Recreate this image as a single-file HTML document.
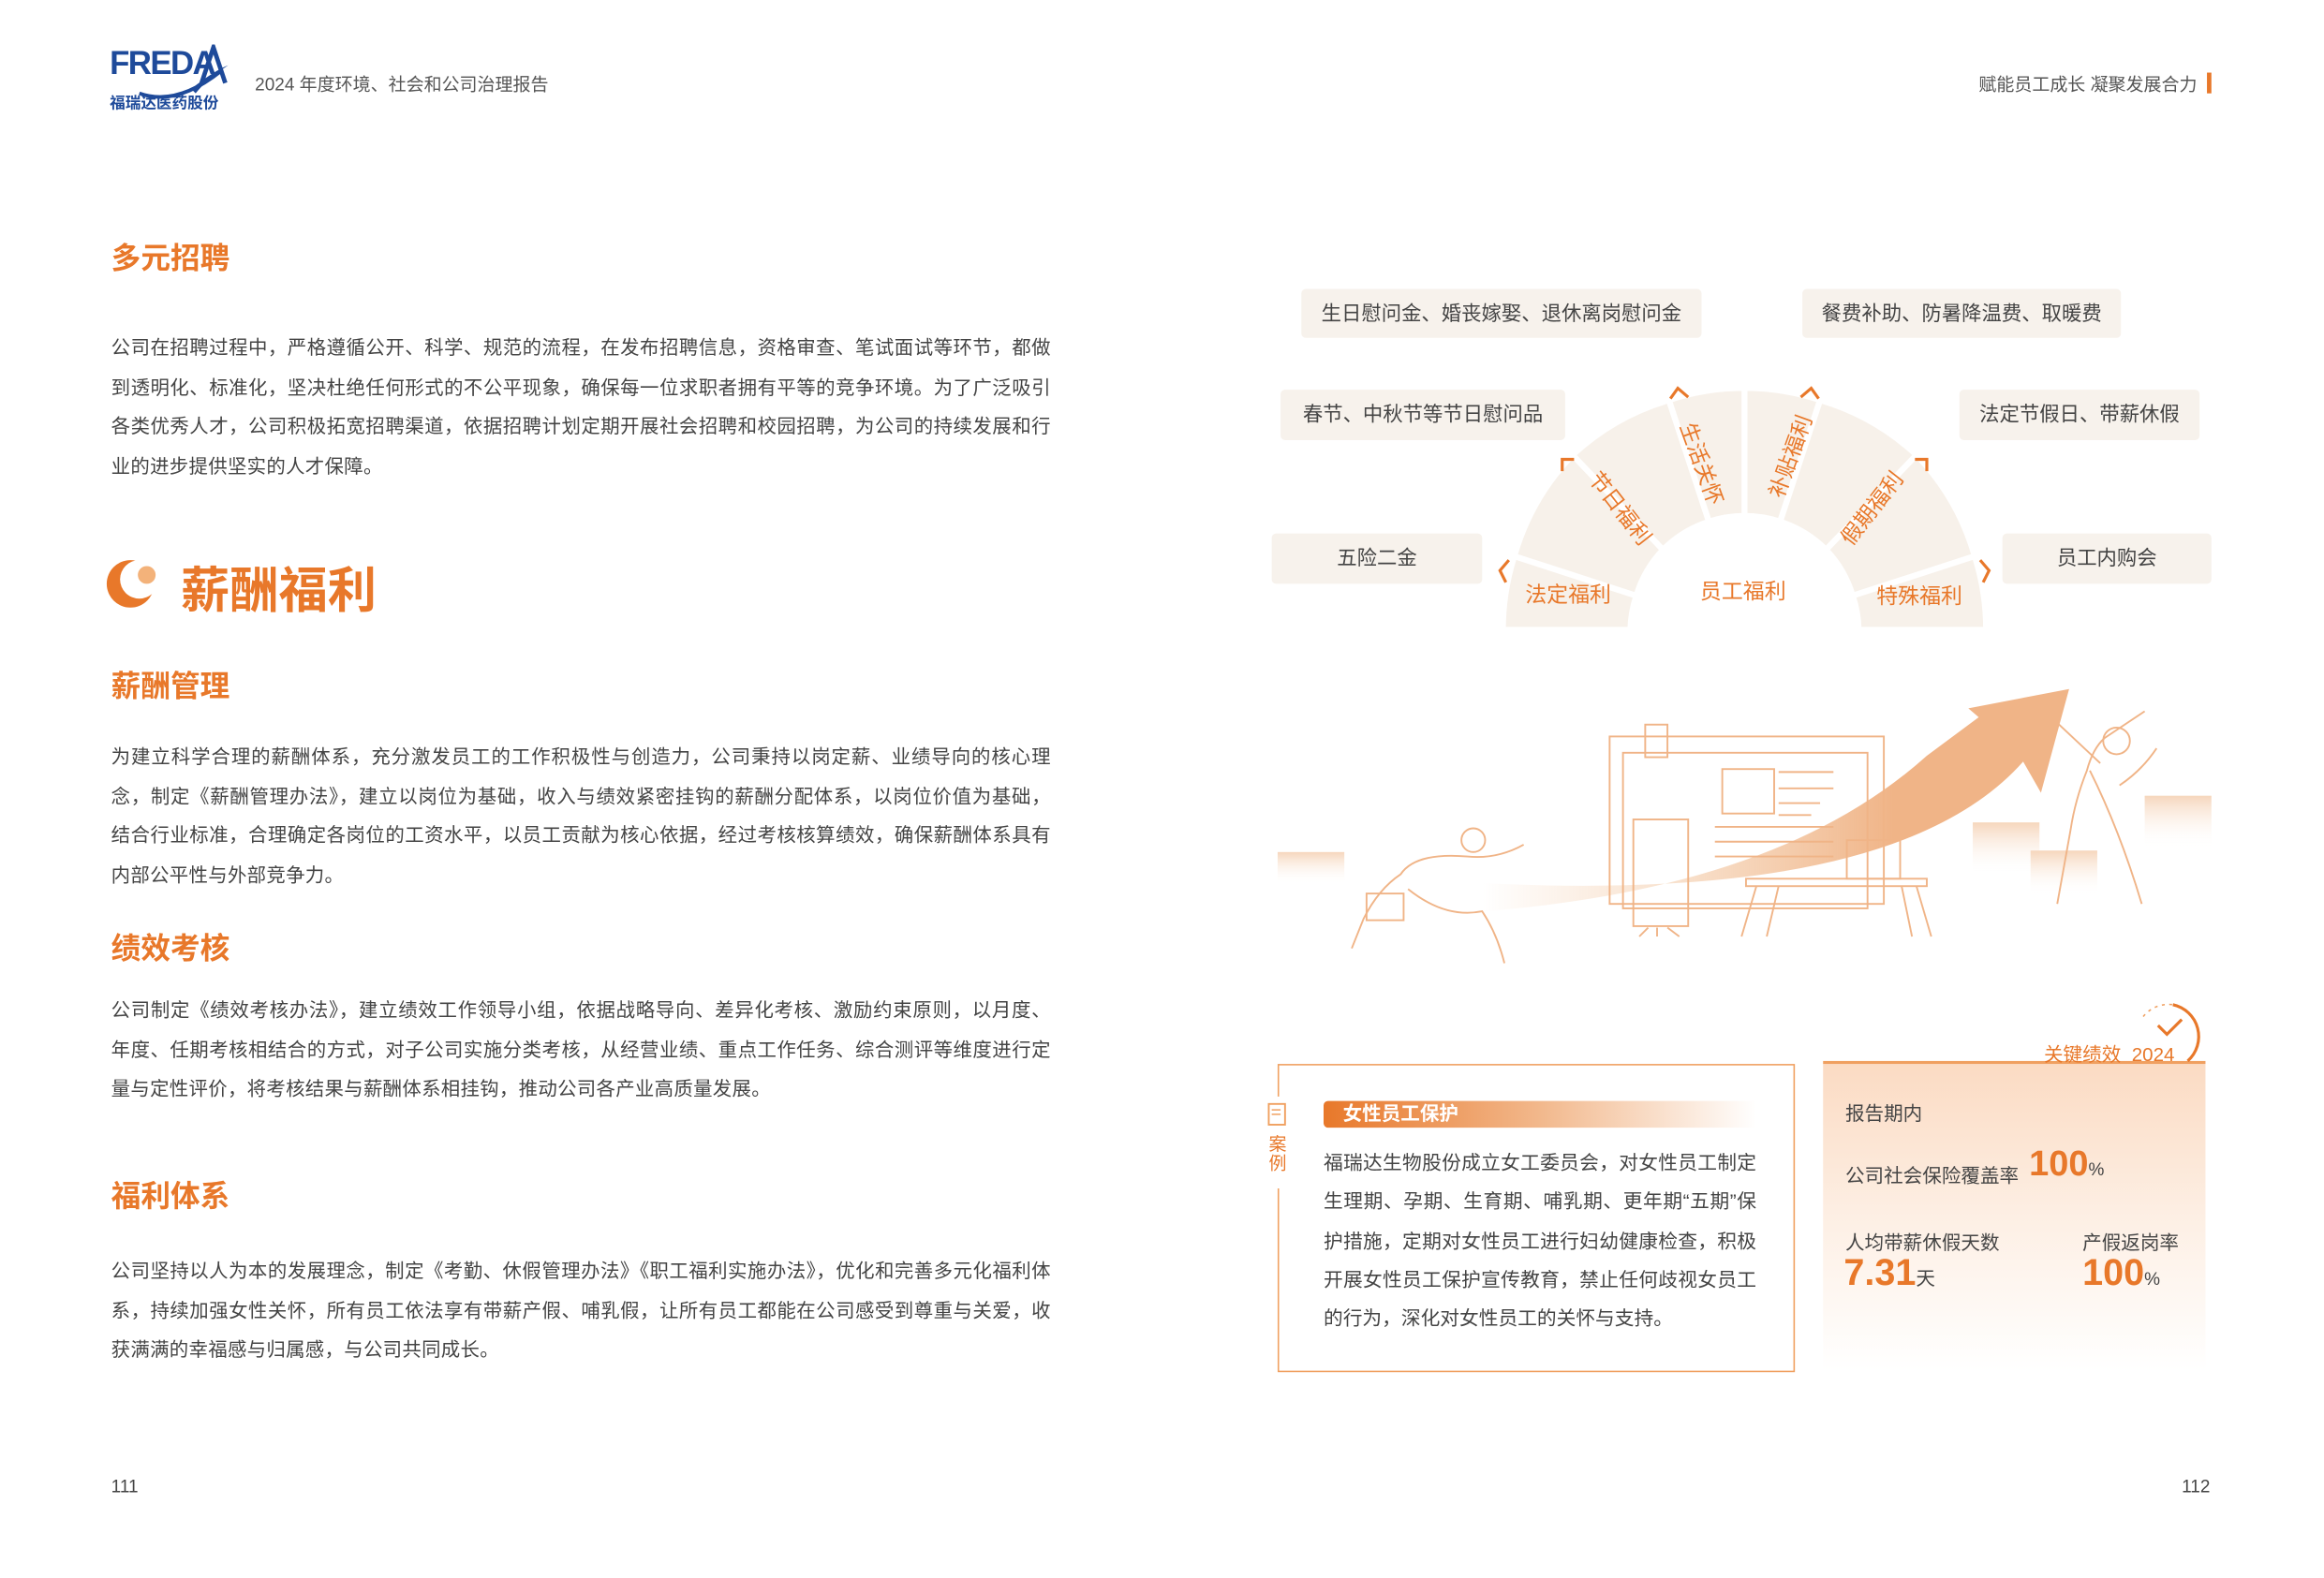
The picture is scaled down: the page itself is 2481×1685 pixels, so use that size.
<!DOCTYPE html>
<html><head><meta charset="utf-8">
<style>
html,body{margin:0;padding:0;background:#fff;}
body{width:2481px;height:1684px;overflow:hidden;position:relative;}
#s{position:absolute;left:0;top:0;width:1568px;height:1065px;transform:scale(1.5823);transform-origin:0 0;font-family:"Liberation Sans","Noto Sans CJK SC",sans-serif;color:#444;}
.a{position:absolute;white-space:nowrap;}
.h2{color:#e8782a;font-size:20px;font-weight:bold;}
.p{position:absolute;left:75px;width:634px;font-size:12.9px;line-height:26.5px;color:#444;text-align:justify;letter-spacing:0.2px;}
.box{position:absolute;background:#f7f2ec;border-radius:3px;font-size:13.5px;color:#444;text-align:center;}
</style></head><body><div id="s">
<div class="a" style="left:74px;top:30px;font-size:22px;color:#1e4a9a;font-weight:bold;letter-spacing:-1px;">FREDA</div>
<svg class="a" style="left:74px;top:30px" width="80" height="40"><path d="M55 30 Q70 18 80 14 Q65 24 58 33 Z" fill="#1e4a9a"/><path d="M62 26 L70 2 L78 26" stroke="#1e4a9a" stroke-width="3" fill="none"/><path d="M20 33 Q45 42 75 18" stroke="#1e4a9a" stroke-width="2.5" fill="none"/></svg>
<div class="a" style="left:74px;top:62px;font-size:10.5px;color:#1e4a9a;font-weight:bold;">福瑞达医药股份</div>
<div class="a" style="left:172px;top:48px;font-size:12px;color:#555;">2024 年度环境、社会和公司治理报告</div>
<div class="a" style="left:1335px;top:48px;font-size:12px;color:#555;">赋能员工成长 凝聚发展合力</div>
<div class="a" style="left:1489px;top:49px;width:3px;height:14px;background:#e8782a;"></div>

<div class="a h2" style="left:75px;top:158px;">多元招聘</div>
<div class="p" style="top:222px;">公司在招聘过程中，严格遵循公开、科学、规范的流程，在发布招聘信息，资格审查、笔试面试等环节，都做到透明化、标准化，坚决杜绝任何形式的不公平现象，确保每一位求职者拥有平等的竞争环境。为了广泛吸引各类优秀人才，公司积极拓宽招聘渠道，依据招聘计划定期开展社会招聘和校园招聘，为公司的持续发展和行业的进步提供坚实的人才保障。</div>
<svg class="a" style="left:70px;top:376px" width="38" height="36"><circle cx="18" cy="18" r="16" fill="#e8782a"/><circle cx="24" cy="15" r="13" fill="#fff"/><circle cx="29" cy="12" r="6" fill="#f3b27a"/></svg>
<div class="a" style="left:122px;top:372px;font-size:33px;font-weight:bold;color:#e8782a;">薪酬福利</div>
<div class="a h2" style="left:75px;top:447px;">薪酬管理</div>
<div class="p" style="top:498px;">为建立科学合理的薪酬体系，充分激发员工的工作积极性与创造力，公司秉持以岗定薪、业绩导向的核心理念，制定《薪酬管理办法》，建立以岗位为基础，收入与绩效紧密挂钩的薪酬分配体系，以岗位价值为基础，结合行业标准，合理确定各岗位的工资水平，以员工贡献为核心依据，经过考核核算绩效，确保薪酬体系具有内部公平性与外部竞争力。</div>
<div class="a h2" style="left:75px;top:624px;">绩效考核</div>
<div class="p" style="top:669px;">公司制定《绩效考核办法》，建立绩效工作领导小组，依据战略导向、差异化考核、激励约束原则，以月度、年度、任期考核相结合的方式，对子公司实施分类考核，从经营业绩、重点工作任务、综合测评等维度进行定量与定性评价，将考核结果与薪酬体系相挂钩，推动公司各产业高质量发展。</div>
<div class="a h2" style="left:75px;top:791px;">福利体系</div>
<div class="p" style="top:845px;">公司坚持以人为本的发展理念，制定《考勤、休假管理办法》《职工福利实施办法》，优化和完善多元化福利体系，持续加强女性关怀，所有员工依法享有带薪产假、哺乳假，让所有员工都能在公司感受到尊重与关爱，收获满满的幸福感与归属感，与公司共同成长。</div>
<div class="a" style="left:75px;top:996px;font-size:12px;color:#444;">111</div>
<div class="a" style="left:1472px;top:996px;font-size:12px;color:#444;">112</div>

<div class="box" style="left:878px;top:195px;width:270px;height:33px;line-height:33px;">生日慰问金、婚丧嫁娶、退休离岗慰问金</div>
<div class="box" style="left:1216px;top:195px;width:215px;height:33px;line-height:33px;">餐费补助、防暑降温费、取暖费</div>
<div class="box" style="left:864px;top:263px;width:192px;height:34px;line-height:34px;">春节、中秋节等节日慰问品</div>
<div class="box" style="left:1322px;top:263px;width:162px;height:34px;line-height:34px;">法定节假日、带薪休假</div>
<div class="box" style="left:858px;top:360px;width:142px;height:34px;line-height:34px;">五险二金</div>
<div class="box" style="left:1351px;top:360px;width:141px;height:34px;line-height:34px;">员工内购会</div>

<svg class="a" style="left:0;top:0" width="1568" height="1065">
<g fill="#f7f1ea" stroke="#fff" stroke-width="4">
<path d="M1014 425 A163 163 0 0 1 1021.7 375.3 L1104 402 A77 77 0 0 0 1100 425 Z"/>
<path d="M1021.7 375.3 A163 163 0 0 1 1061 307 L1122 371 A77 77 0 0 0 1104 402 Z"/>
<path d="M1061 307 A163 163 0 0 1 1126 270 L1153 352 A77 77 0 0 0 1122 371 Z"/>
<path d="M1126 270 A163 163 0 0 1 1228 270 L1201 352 A77 77 0 0 0 1153 352 Z"/>
<path d="M1228 270 A163 163 0 0 1 1293 307 L1232 371 A77 77 0 0 0 1201 352 Z"/>
<path d="M1293 307 A163 163 0 0 1 1332.3 375.3 L1250 402 A77 77 0 0 0 1232 371 Z"/>
<path d="M1332.3 375.3 A163 163 0 0 1 1340 425 L1254 425 A77 77 0 0 0 1250 402 Z"/>
</g>
<line x1="1177" y1="262" x2="1177" y2="350" stroke="#fff" stroke-width="4"/>
<g stroke="#e8782a" stroke-width="2" fill="none">
<polyline points="1018,378 1012,385 1016,393"/>
<polyline points="1054,318 1054,310 1062,310"/>
<polyline points="1127,269 1132,262 1139,268"/>
<polyline points="1215,268 1222,262 1227,269"/>
<polyline points="1292,310 1300,310 1300,318"/>
<polyline points="1336,378 1342,385 1338,393"/>
</g>
<g fill="#e8782a" font-size="14.5" font-family="Liberation Sans, Noto Sans CJK SC, sans-serif">
<text x="1058" y="406" text-anchor="middle">法定福利</text>
<text x="1176" y="404" text-anchor="middle">员工福利</text>
<text x="1295" y="407" text-anchor="middle">特殊福利</text>
<text transform="translate(1093,343) rotate(52)" text-anchor="middle" dy="5">节日福利</text>
<text transform="translate(1148,313) rotate(70)" text-anchor="middle" dy="5">生活关怀</text>
<text transform="translate(1208,308) rotate(-70)" text-anchor="middle" dy="5">补贴福利</text>
<text transform="translate(1263,343) rotate(-52)" text-anchor="middle" dy="5">假期福利</text>
</g>
<defs>
<linearGradient id="ga" x1="0" x2="1" y1="0" y2="0"><stop offset="0" stop-color="#f3c9a5" stop-opacity="0"/><stop offset="0.35" stop-color="#f3c9a5" stop-opacity="0.6"/><stop offset="0.7" stop-color="#f0b487"/><stop offset="1" stop-color="#f0b487"/></linearGradient>
<linearGradient id="gb" x1="0" x2="0" y1="0" y2="1"><stop offset="0" stop-color="#f6d6bc"/><stop offset="1" stop-color="#fff" stop-opacity="0"/></linearGradient>
</defs>
<rect x="862" y="575" width="45" height="22" fill="url(#gb)"/>
<rect x="1331" y="555" width="45" height="35" fill="url(#gb)"/>
<rect x="1370" y="574" width="45" height="30" fill="url(#gb)"/>
<rect x="1447" y="537" width="45" height="35" fill="url(#gb)"/>
<path d="M1000 615 Q1200 600 1300 510 L1335 484 L1328 478 L1396 465 L1377 535 L1365 514 Q1280 610 1000 596 Z" fill="url(#ga)"/>
<g stroke="#f0b487" stroke-width="1.2" fill="none">
<rect x="1086" y="497" width="185" height="113"/>
<rect x="1095" y="508" width="165" height="105"/>
<rect x="1110" y="489" width="15" height="22"/>
<rect x="1162" y="519" width="35" height="30"/>
<line x1="1200" y1="521" x2="1237" y2="521"/><line x1="1200" y1="532" x2="1237" y2="532"/><line x1="1200" y1="542" x2="1228" y2="542"/><line x1="1200" y1="550" x2="1222" y2="550"/>
<line x1="1157" y1="558" x2="1237" y2="558"/><line x1="1157" y1="568" x2="1237" y2="568"/><line x1="1157" y1="578" x2="1237" y2="578"/>
<rect x="1102" y="553" width="37" height="72"/>
<line x1="1112" y1="626" x2="1106" y2="632"/><line x1="1118" y1="626" x2="1118" y2="632"/><line x1="1125" y1="626" x2="1133" y2="632"/>
<rect x="1246" y="567" width="36" height="26"/>
<rect x="1178" y="593" width="122" height="5"/>
<line x1="1185" y1="598" x2="1175" y2="632"/><line x1="1200" y1="598" x2="1192" y2="632"/><line x1="1283" y1="598" x2="1290" y2="632"/><line x1="1293" y1="598" x2="1303" y2="632"/>
<path d="M912 640 L920 620 Q930 600 945 590 Q955 575 990 578 Q1010 580 1028 570"/>
<path d="M950 600 Q975 620 1000 615 Q1010 630 1015 650"/>
<circle cx="994" cy="567" r="8"/>
<rect x="922" y="603" width="25" height="18"/>
<path d="M1388 610 L1397 560 Q1400 540 1408 520 Q1412 505 1420 498 L1447 480"/>
<path d="M1410 520 Q1430 560 1445 610"/><path d="M1417 515 L1385 485"/>
<circle cx="1428" cy="500" r="9"/>
<path d="M1430 530 Q1445 520 1455 505"/>
</g>
</svg>

<div class="a" style="left:862px;top:718px;width:347px;height:206px;border:1px solid #f0a060;"></div>
<div class="a" style="left:852px;top:740px;width:20px;height:62px;background:#fff;"></div>
<svg class="a" style="left:855px;top:744px" width="14" height="17"><rect x="1" y="1" width="11" height="14" fill="none" stroke="#f0a060" stroke-width="1.2"/><line x1="3" y1="5" x2="9" y2="5" stroke="#f0a060"/><line x1="3" y1="8" x2="9" y2="8" stroke="#f0a060"/></svg>
<div class="a" style="left:856px;top:766px;font-size:12px;line-height:13px;color:#e8782a;white-space:normal;width:13px;">案例</div>
<div class="a" style="left:893px;top:743px;width:292px;height:18px;background:linear-gradient(90deg,#e8782a,#f2b88c 50%,#fff);border-radius:3px 0 0 3px;"></div>
<div class="a" style="left:906px;top:743px;font-size:13px;line-height:18px;color:#fff;font-weight:bold;">女性员工保护</div>
<div class="a" style="left:893px;top:772px;width:292px;font-size:13.1px;line-height:26.3px;color:#444;white-space:normal;text-align:justify;">福瑞达生物股份成立女工委员会，对女性员工制定生理期、孕期、生育期、哺乳期、更年期“五期”保护措施，定期对女性员工进行妇幼健康检查，积极开展女性员工保护宣传教育，禁止任何歧视女员工的行为，深化对女性员工的关怀与支持。</div>

<div class="a" style="left:1230px;top:718px;width:258px;height:207px;background:linear-gradient(180deg,#fbdbc3,#fdefe4 50%,#fff);"></div>
<div class="a" style="left:1230px;top:716px;width:258px;height:2px;background:#f0a060;"></div>
<svg class="a" style="left:1436px;top:676px" width="56" height="44"><path d="M30 2 A22 22 0 0 1 40 40" stroke="#e8782a" stroke-width="2" fill="none"/><path d="M10 10 A22 22 0 0 1 30 2" stroke="#f0a060" stroke-dasharray="2 3" fill="none"/><polyline points="20,16 26,22 36,12" stroke="#e8782a" stroke-width="2" fill="none"/></svg>
<div class="a" style="left:1379px;top:701px;font-size:13px;color:#e8782a;">关键绩效&nbsp;&nbsp;2024</div>
<div class="a" style="left:1245px;top:741px;font-size:13px;color:#444;">报告期内</div>
<div class="a" style="left:1245px;top:783px;font-size:13px;color:#444;">公司社会保险覆盖率</div>
<div class="a" style="left:1369px;top:772px;font-size:24px;font-weight:bold;color:#e8782a;">100<span style="font-size:12px;color:#444;font-weight:normal;">%</span></div>
<div class="a" style="left:1245px;top:828px;font-size:13px;color:#444;">人均带薪休假天数</div>
<div class="a" style="left:1405px;top:828px;font-size:13px;color:#444;">产假返岗率</div>
<div class="a" style="left:1244px;top:845px;font-size:25px;font-weight:bold;color:#e8782a;">7.31<span style="font-size:13px;color:#444;font-weight:normal;">天</span></div>
<div class="a" style="left:1405px;top:845px;font-size:25px;font-weight:bold;color:#e8782a;">100<span style="font-size:12px;color:#444;font-weight:normal;">%</span></div>
</div></body></html>
